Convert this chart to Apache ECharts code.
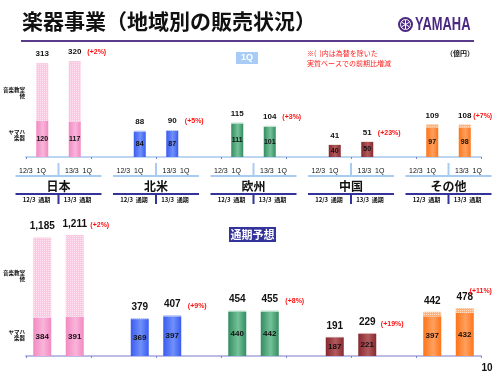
<!DOCTYPE html>
<html>
<head>
<meta charset="utf-8">
<script src="https://cdn.jsdelivr.net/npm/echarts@6/dist/echarts.min.js"></script>
<style>
  html, body { margin: 0; padding: 0; background: #fff; }
  #main { width: 500px; height: 375px; }
</style>
</head>
<body>
<div id="main"></div>
<script>
// data
const regions = ['日本', '北米', '欧州', '中国', 'その他'];
const q1Periods = ['12/3  1Q', '13/3  1Q'];
const fyPeriods = ['12/3  通期', '13/3  通期'];
// 12/3, 13/3 pairs per region
const q1Total = [313, 320, 88, 90, 115, 104, 41, 51, 109, 108];
const q1Yamaha = [120, 117, 84, 87, 111, 101, 40, 50, 97, 98];
const q1Change = ['+2%', '+5%', '+3%', '+23%', '+7%'];
const fyTotal = [1185, 1211, 379, 407, 454, 455, 191, 229, 442, 478];
const fyYamaha = [384, 391, 369, 397, 440, 442, 187, 221, 397, 432];
const fyChange = ['+2%', '+9%', '+8%', '+19%', '+11%'];

const JP = "'Noto Sans CJK JP', sans-serif";
const NUM = "'Liberation Sans', Arial, sans-serif";

const palette = [
  { base: '#f28ac2', light: '#f9b4da', top: '#fbc8e3' },
  { base: '#3a5cf0', light: '#7090fa', top: '#a8bcf8' },
  { base: '#358c60', light: '#74c29a', top: '#a8d8bc' },
  { base: '#862a30', light: '#b25a5e', top: '#d8a0a0' },
  { base: '#ff7418', light: '#ffa060', top: '#ffb37a' },
];

const cats = [];
regions.forEach((r, i) => {
  cats.push(r + '12', r + '13');
  if (i < regions.length - 1) cats.push('gap' + i);
});

const grad = c => new echarts.graphic.LinearGradient(0, 0, 1, 0, [
  { offset: 0, color: c.base },
  { offset: 0.55, color: c.light },
  { offset: 1, color: c.base },
]);

const hatch = {
  symbol: 'rect',
  symbolSize: 1,
  dashArrayX: [1, 1],
  dashArrayY: [1, 1],
  color: 'rgba(255,255,255,0.55)',
};

const fmt = v => v.toLocaleString('en-US');

function buildSeries(gi, yam, tot, chg, opt) {
  const bottomData = [];
  const topData = [];
  const chgData = [];
  regions.forEach((r, i) => {
    [0, 1].forEach(j => {
      const k = i * 2 + j;
      bottomData.push({ value: yam[k], itemStyle: { color: grad(palette[i]) } });
      topData.push({ value: tot[k] - yam[k], total: tot[k], itemStyle: { color: palette[i].top, decal: hatch } });
      if (j === 1) {
        const item = { value: tot[k], chg: chg[i] };
        if (i === regions.length - 1) item.label = { offset: opt.lastOffset };
        chgData.push(item);
      } else {
        chgData.push('-');
      }
    });
    if (i < regions.length - 1) {
      bottomData.push('-');
      topData.push('-');
      chgData.push('-');
    }
  });
  return [
    {
      type: 'bar',
      xAxisIndex: gi,
      yAxisIndex: gi,
      stack: 's' + gi,
      barWidth: opt.barWidth,
      barGap: '-100%',
      data: bottomData,
      label: {
        show: true,
        position: 'inside',
        color: '#111',
        fontFamily: NUM,
        fontWeight: 'bold',
        fontSize: opt.inFont,
      },
    },
    {
      type: 'bar',
      xAxisIndex: gi,
      yAxisIndex: gi,
      stack: 's' + gi,
      barWidth: opt.barWidth,
      barGap: '-100%',
      data: topData,
      label: {
        show: true,
        position: 'top',
        distance: opt.dist,
        color: '#111',
        fontFamily: NUM,
        fontWeight: 'bold',
        fontSize: opt.totFont,
        formatter: p => fmt(p.data.total),
      },
    },
    {
      type: 'bar',
      xAxisIndex: gi,
      yAxisIndex: gi,
      barWidth: opt.barWidth,
      barGap: '-100%',
      data: chgData,
      itemStyle: { color: 'rgba(0,0,0,0)' },
      silent: true,
      label: {
        show: true,
        position: 'top',
        distance: opt.dist,
        offset: [opt.chgShift, 0],
        color: '#ff1010',
        fontFamily: NUM,
        fontWeight: 'bold',
        fontSize: opt.chgFont,
        formatter: p => '(' + p.data.chg + ')',
      },
    },
  ];
}

const axisBase = (color) => ({
  type: 'category',
  data: cats,
  axisLabel: { show: false },
  axisLine: { lineStyle: { color: color, width: 2 } },
  axisTick: { show: true, length: 2, lineStyle: { color: '#7a86c8' } },
});

const chart = echarts.init(document.getElementById('main'));

const option = {
  animation: false,
  grid: [
    { left: 26, right: 19, top: 37, height: 120 },
    { left: 26, right: 19, top: 206, height: 150 },
  ],
  xAxis: [
    Object.assign({ gridIndex: 0 }, axisBase('#bcd6f2')),
    Object.assign({ gridIndex: 1 }, axisBase('#bcbce6')),
  ],
  yAxis: [
    { gridIndex: 0, type: 'value', min: 0, max: 400, show: false },
    { gridIndex: 1, type: 'value', min: 0, max: 1500, show: false },
  ],
  series: [
    ...buildSeries(0, q1Yamaha, q1Total, q1Change,
      { barWidth: 12, inFont: 7, totFont: 8, chgFont: 7, dist: 5, chgShift: 22, lastOffset: [18, 0] }),
    ...buildSeries(1, fyYamaha, fyTotal, fyChange,
      { barWidth: 18, inFont: 8, totFont: 10, chgFont: 7, dist: 6, chgShift: 25, lastOffset: [16, -8] }),
  ],
};
chart.setOption(option);

// fixed page furniture
const txt = (text, x, y, size, extra) => ({
  type: 'text',
  x: x,
  y: y,
  style: Object.assign({
    text: text,
    fill: '#111',
    fontSize: size,
    fontFamily: JP,
    fontWeight: 'bold',
    align: 'center',
    verticalAlign: 'middle',
  }, extra || {}),
});
const line = (x1, y1, x2, y2, color, w) => ({
  type: 'line',
  shape: { x1: x1, y1: y1, x2: x2, y2: y2 },
  style: { stroke: color, lineWidth: w },
});

const graphics = [
  txt('楽器事業（地域別の販売状況）', 22, 21, 21, { align: 'left' }),
  line(21, 41, 474, 41, '#5a3a8a', 2),
  { type: 'circle', shape: { cx: 405.5, cy: 24.5, r: 7.5 }, style: { fill: '#4b2882' } },
  { type: 'circle', shape: { cx: 405.5, cy: 24.5, r: 5 }, style: { fill: 'none', stroke: '#fff', lineWidth: 1 } },
  line(405.5, 20, 405.5, 29, '#fff', 1),
  line(401.6, 22.2, 409.4, 26.8, '#fff', 1),
  line(401.6, 26.8, 409.4, 22.2, '#fff', 1),
  {
    type: 'text', x: 415, y: 25, scaleX: 0.68,
    style: { text: 'YAMAHA', fill: '#4b2882', fontSize: 19, fontWeight: 'bold', fontFamily: NUM, align: 'left', verticalAlign: 'middle' },
  },
  txt('（億円）', 460, 53, 7),
  txt('※(  )内は為替を除いた', 307, 53, 7, { align: 'left', fill: '#ff2020', fontWeight: 'normal' }),
  txt('実質ベースでの前期比増減', 307, 63, 7, { align: 'left', fill: '#ff2020', fontWeight: 'normal' }),
  { type: 'rect', shape: { x: 236, y: 52, width: 22, height: 12 }, style: { fill: '#a8ccf5' } },
  txt('1Q', 247, 58, 9, { fill: '#fff', fontFamily: NUM }),
  { type: 'rect', shape: { x: 229, y: 227, width: 47, height: 15 }, style: { fill: '#333399' } },
  txt('通期予想', 252.5, 234.5, 11, { fill: '#fff' }),
  txt('音楽教室\n他', 25, 93, 5.5, { align: 'right', lineHeight: 6 }),
  txt('ヤマハ\n楽器', 25, 135, 5.5, { align: 'right', lineHeight: 6 }),
  txt('音楽教室\n他', 25, 276, 5.5, { align: 'right', lineHeight: 6 }),
  txt('ヤマハ\n楽器', 25, 335, 5.5, { align: 'right', lineHeight: 6 }),
  txt('10', 487, 368, 10, { fontFamily: NUM }),
];

// region table under the 1Q chart, placed from the axis positions
regions.forEach((r, i) => {
  const a = chart.convertToPixel({ xAxisIndex: 0 }, cats[i * 3]);
  const b = chart.convertToPixel({ xAxisIndex: 0 }, cats[i * 3 + 1]);
  const mid = (a + b) / 2;
  graphics.push(
    line(mid, 163, mid, 176, '#a8ccf0', 2),
    txt(q1Periods[0], mid - 26, 171, 7, { fontFamily: NUM, fontWeight: 'normal' }),
    txt(q1Periods[1], mid + 20, 171, 7, { fontFamily: NUM, fontWeight: 'normal' }),
    line(mid - 43, 176, mid + 43, 176, '#a8ccf0', 2),
    txt(r, mid, 186, 12),
    line(mid - 43, 194, mid + 43, 194, '#333399', 2),
    line(mid, 194, mid, 204, '#333399', 2),
    txt(fyPeriods[0], mid - 22, 200, 6),
    txt(fyPeriods[1], mid + 19, 200, 6)
  );
});

chart.setOption({ graphic: { elements: graphics } });
</script>
</body>
</html>
